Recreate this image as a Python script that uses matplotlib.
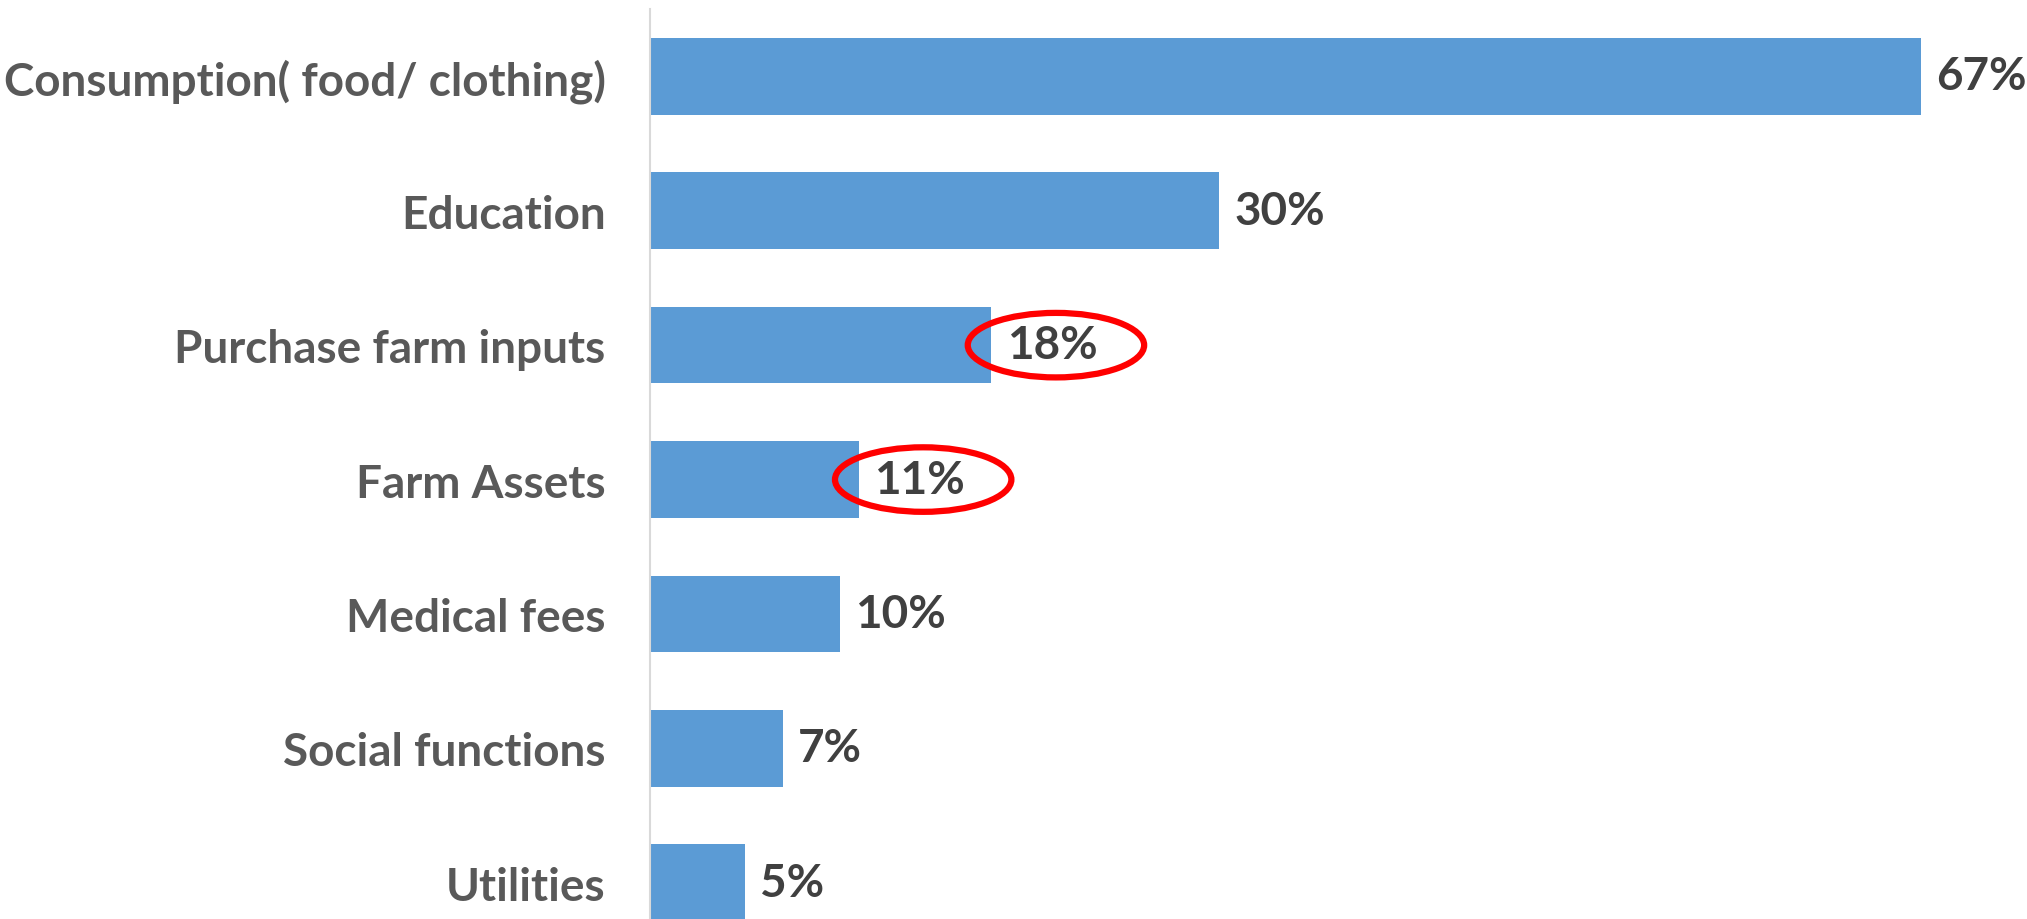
import matplotlib
matplotlib.use("Agg")
import matplotlib.pyplot as plt
from matplotlib.patches import Ellipse

# spending categories, top to bottom
categories = [
    "Consumption( food/ clothing)",
    "Education",
    "Purchase farm inputs",
    "Farm Assets",
    "Medical fees",
    "Social functions",
    "Utilities",
]
shares = [67, 30, 18, 11, 10, 7, 5]
highlighted = ["Purchase farm inputs", "Farm Assets"]

plt.rcParams["font.family"] = ["Lato", "DejaVu Sans"]

fig = plt.figure(figsize=(20.27, 9.2), dpi=100)
ax = fig.add_axes([0.3207, -0.0337, 0.655, 1.0227])

ypos = list(range(len(categories)))
ax.barh(ypos, shares, height=0.57, color="#5B9BD5")

ax.set_xlim(0, 70)
ax.set_ylim(6.5, -0.5)
ax.set_yticks(ypos)
ax.set_yticklabels(categories, fontsize=33, fontweight="bold", color="#595959")
ax.tick_params(axis="y", length=0, pad=32)
ax.set_xticks([])

for s in ["top", "right", "bottom"]:
    ax.spines[s].set_visible(False)
ax.spines["left"].set_color("#D9D9D9")
ax.spines["left"].set_linewidth(1.5)

for y, v in zip(ypos, shares):
    ax.text(v + 0.8, y, f"{v}%", va="center", ha="left",
            fontsize=33, fontweight="bold", color="#404040")

# red rings around the farm-related shares
for y, (cat, v) in enumerate(zip(categories, shares)):
    if cat in highlighted:
        ax.add_patch(Ellipse((v + 3.4, y), 9.3, 0.48, fill=False,
                             edgecolor="#FF0000", linewidth=4.5, clip_on=False))

fig.savefig("out.png", dpi=100)
